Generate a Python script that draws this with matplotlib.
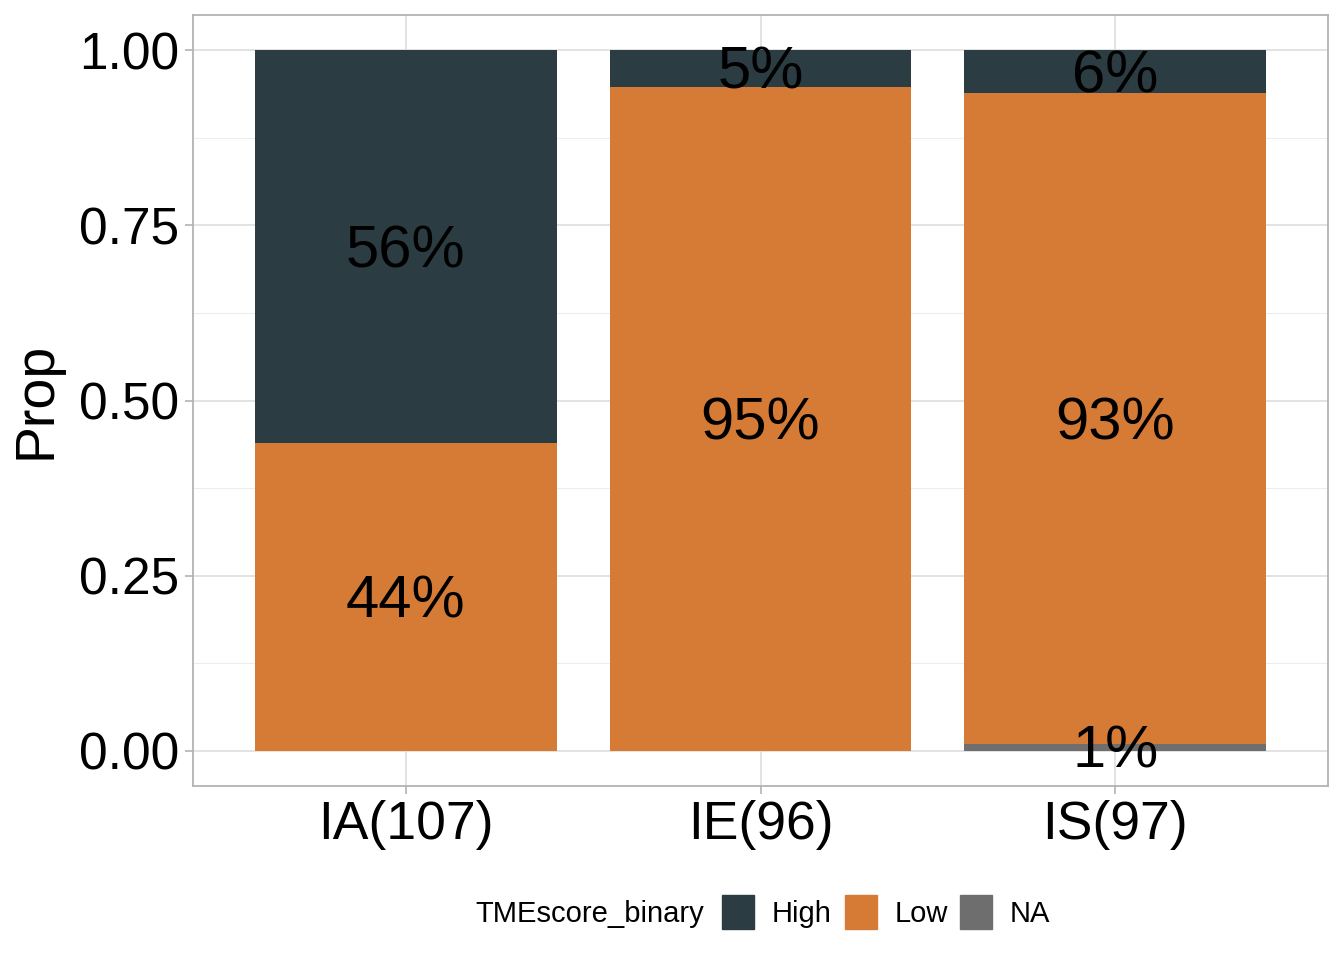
import matplotlib
matplotlib.use('agg')
import matplotlib.pyplot as plt
import matplotlib.transforms as mtransforms
import numpy as np
from matplotlib.patches import Rectangle

plt.rcParams['font.family'] = ['Liberation Sans', 'DejaVu Sans']

# counts per group and TMEscore level
groups = ['IA(107)', 'IE(96)', 'IS(97)']
levels = ['High', 'Low', 'NA']
na_counts = [0, 0, 1]
low_counts = [47, 91, 90]
high_counts = [60, 5, 6]
colors = {'High': '#2B3C42', 'Low': '#D67B35', 'NA': '#6E6E6E'}


def main():
    totals = np.array(na_counts) + np.array(low_counts) + np.array(high_counts)
    na = np.array(na_counts) / totals
    low = np.array(low_counts) / totals
    high = np.array(high_counts) / totals

    fig = plt.figure(figsize=(13.44, 9.6), dpi=100)
    ax = fig.add_axes([193/1344, 174/960, 1135/1344, 771/960])
    x = np.arange(1, len(groups) + 1)
    w = 0.85

    # nudge labels down a little so they sit centred like ggplot text
    lab_tf = ax.transData + mtransforms.ScaledTranslation(0, -5/100, fig.dpi_scale_trans)

    # stack bottom to top: NA, Low, High
    bottom = np.zeros(len(groups))
    for name, vals in [('NA', na), ('Low', low), ('High', high)]:
        ax.bar(x, vals, width=w, bottom=bottom, color=colors[name], zorder=2)
        for xi, b, v in zip(x, bottom, vals):
            if v > 0:
                ax.text(xi, b + v / 2, f"{round(v * 100)}%", ha='center',
                        va='center', fontsize=43, color='black', zorder=3,
                        transform=lab_tf)
        bottom = bottom + vals

    ax.set_xlim(0.4, 3.6)
    ax.set_ylim(-0.05, 1.05)
    ax.set_xticks(x)
    ax.set_xticklabels(groups, fontsize=38.5)
    ax.set_yticks([0, 0.25, 0.5, 0.75, 1.0])
    ax.set_yticklabels(['0.00', '0.25', '0.50', '0.75', '1.00'], fontsize=37)
    ax.set_yticks([0.125, 0.375, 0.625, 0.875], minor=True)
    ax.set_ylabel('Prop', fontsize=40, labelpad=12)

    ax.grid(True, which='major', color='#DEDEDE', linewidth=1.2, zorder=0)
    ax.grid(True, which='minor', axis='y', color='#EDEDED', linewidth=0.8, zorder=0)
    ax.set_axisbelow(True)
    for s in ax.spines.values():
        s.set_color('#B3B3B3')
        s.set_linewidth(1.3)
    ax.tick_params(which='major', length=6, width=1.2, color='#B3B3B3', pad=4)
    ax.tick_params(which='minor', length=0)

    # legend drawn by hand: title on the left, keys in a row
    fig.text(475/1344, 1 - 914/960, 'TMEscore_binary', fontsize=21,
             ha='left', va='center')
    key_x = [722, 845, 960]
    text_x = [772, 895, 1010]
    for lv, kx, tx in zip(levels, key_x, text_x):
        fig.patches.append(Rectangle((kx/1344, 1 - 929/960), 32/1344, 34/960,
                                     transform=fig.transFigure,
                                     color=colors[lv]))
        fig.text(tx/1344, 1 - 914/960, lv, fontsize=21, ha='left', va='center')

    fig.savefig('out.png', dpi=100)
    plt.close(fig)


if __name__ == "__main__":
    main()
